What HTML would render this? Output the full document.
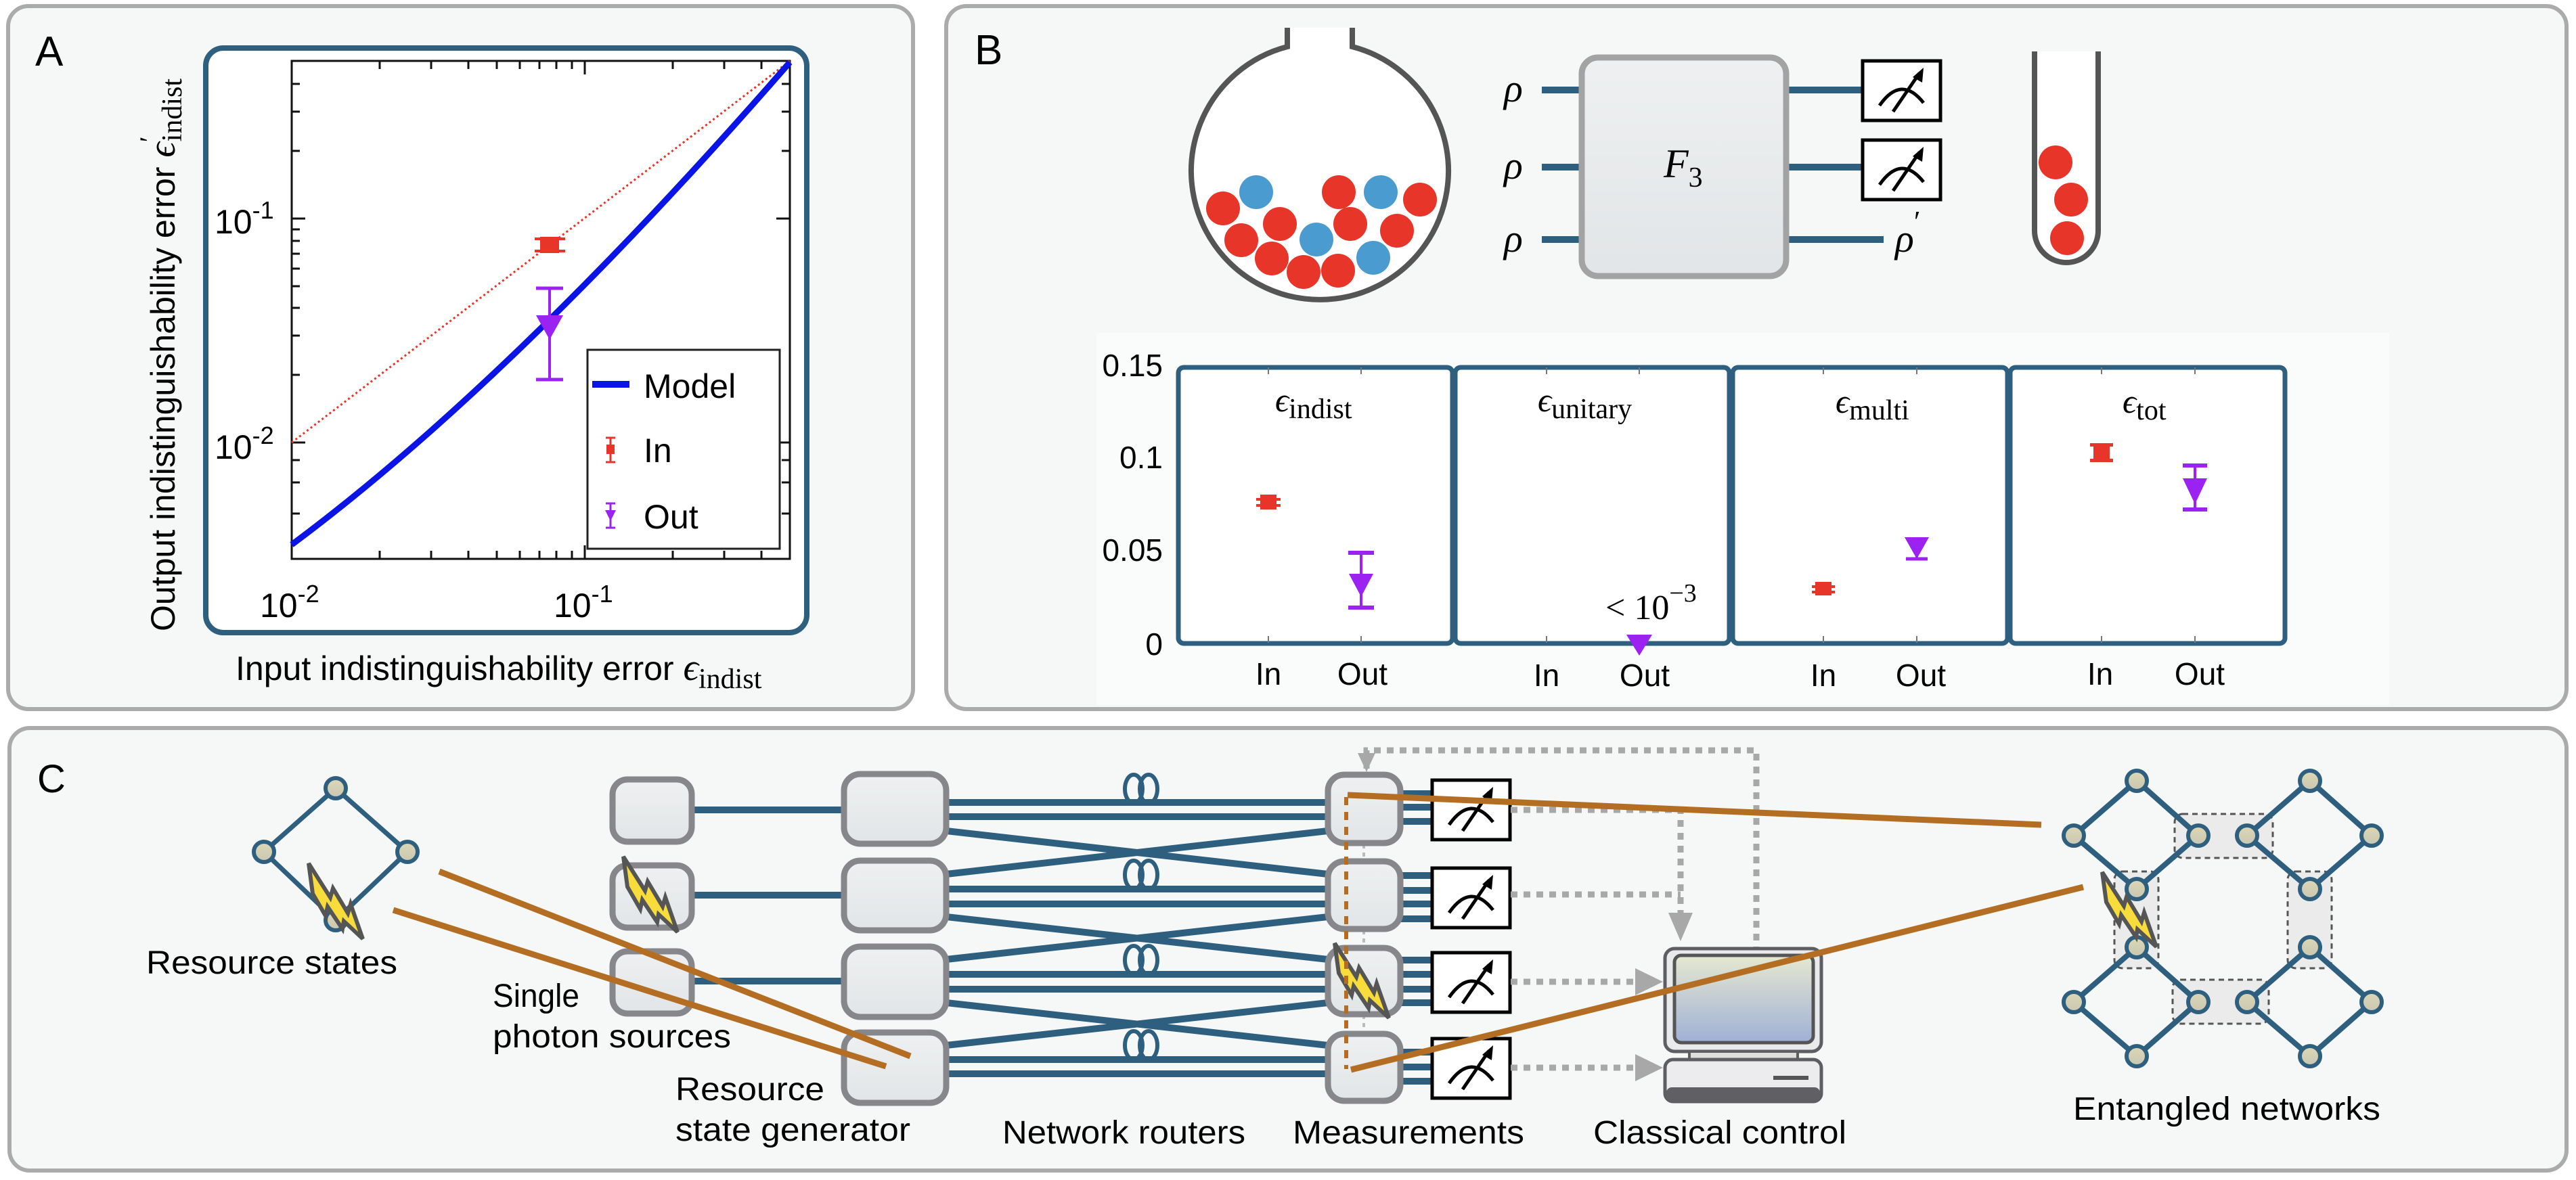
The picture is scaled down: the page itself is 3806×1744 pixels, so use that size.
<!DOCTYPE html>
<html><head><meta charset="utf-8"><style>
html,body{margin:0;padding:0;background:#fff;}
svg{display:block;}
text{font-family:"Liberation Sans",Arial,sans-serif;}
.serif{font-family:"Liberation Serif","DejaVu Serif",serif;}
</style></head><body>
<svg width="3806" height="1744" viewBox="0 0 3806 1744" xmlns="http://www.w3.org/2000/svg">
<defs>
<linearGradient id="bx" x1="0" y1="0" x2="0" y2="1"><stop offset="0" stop-color="#eef0f1"/><stop offset="1" stop-color="#e2e5e7"/></linearGradient>
<linearGradient id="nd" x1="0" y1="0" x2="0" y2="1"><stop offset="0" stop-color="#ddd8b4"/><stop offset="1" stop-color="#c9c6b4"/></linearGradient>
<linearGradient id="scr" x1="0" y1="0" x2="0" y2="1"><stop offset="0" stop-color="#e6e8d0"/><stop offset="1" stop-color="#9fb0d6"/></linearGradient>
<g id="bolt"><polygon points="0,0 32,52 36,38 58,76 62,62 80,115 52,88 50,100 28,66 25,80 6,46" fill="#f7dc3c" stroke="#555" stroke-width="6" stroke-linejoin="miter"/></g>
<g id="meter"><rect x="0" y="0" width="115" height="88" fill="#fff" stroke="#000" stroke-width="5"/><path d="M25,66 Q57,20 90,62" fill="none" stroke="#000" stroke-width="5"/><line x1="45" y1="75" x2="84" y2="18" stroke="#000" stroke-width="5"/><polygon points="90,10 88,32 74,24" fill="#000"/></g>
<g id="node"><circle r="15" fill="url(#nd)" stroke="#2e5f7f" stroke-width="6"/></g>
</defs>

<rect x="12" y="9" width="1337" height="1039" rx="30" fill="#f6f8f8" stroke="#ababab" stroke-width="6"/>
<rect x="1398" y="9" width="2394" height="1039" rx="30" fill="#f6f8f8" stroke="#ababab" stroke-width="6"/>
<rect x="14" y="1076" width="3778" height="654" rx="30" fill="#f6f8f8" stroke="#ababab" stroke-width="6"/>

<!-- ===== Panel A ===== -->
<text x="52" y="97" font-size="62">A</text>
<rect x="304" y="71" width="888" height="864" rx="26" fill="#fff" stroke="#2e5f7f" stroke-width="8"/>
<rect x="431" y="90" width="736" height="736" fill="none" stroke="#111" stroke-width="3"/>
<g stroke="#111" stroke-width="3">
<line x1="561" y1="826" x2="561" y2="814"/><line x1="637" y1="826" x2="637" y2="814"/><line x1="692" y1="826" x2="692" y2="814"/><line x1="734" y1="826" x2="734" y2="814"/><line x1="768" y1="826" x2="768" y2="814"/><line x1="797" y1="826" x2="797" y2="814"/><line x1="822" y1="826" x2="822" y2="814"/><line x1="845" y1="826" x2="845" y2="814"/><line x1="864" y1="826" x2="864" y2="806"/><line x1="994" y1="826" x2="994" y2="814"/><line x1="1070" y1="826" x2="1070" y2="814"/><line x1="1125" y1="826" x2="1125" y2="814"/>
<line x1="561" y1="90" x2="561" y2="102"/><line x1="637" y1="90" x2="637" y2="102"/><line x1="692" y1="90" x2="692" y2="102"/><line x1="734" y1="90" x2="734" y2="102"/><line x1="768" y1="90" x2="768" y2="102"/><line x1="797" y1="90" x2="797" y2="102"/><line x1="822" y1="90" x2="822" y2="102"/><line x1="845" y1="90" x2="845" y2="102"/><line x1="864" y1="90" x2="864" y2="110"/><line x1="994" y1="90" x2="994" y2="102"/><line x1="1070" y1="90" x2="1070" y2="102"/><line x1="1125" y1="90" x2="1125" y2="102"/>
<line x1="431" y1="759" x2="443" y2="759"/><line x1="431" y1="713" x2="443" y2="713"/><line x1="431" y1="680" x2="443" y2="680"/><line x1="431" y1="654" x2="451" y2="654"/><line x1="431" y1="554" x2="443" y2="554"/><line x1="431" y1="496" x2="443" y2="496"/><line x1="431" y1="455" x2="443" y2="455"/><line x1="431" y1="423" x2="443" y2="423"/><line x1="431" y1="397" x2="443" y2="397"/><line x1="431" y1="375" x2="443" y2="375"/><line x1="431" y1="356" x2="443" y2="356"/><line x1="431" y1="339" x2="443" y2="339"/><line x1="431" y1="323" x2="451" y2="323"/><line x1="431" y1="223" x2="443" y2="223"/><line x1="431" y1="165" x2="443" y2="165"/><line x1="431" y1="124" x2="443" y2="124"/>
<line x1="1167" y1="759" x2="1155" y2="759"/><line x1="1167" y1="713" x2="1155" y2="713"/><line x1="1167" y1="680" x2="1155" y2="680"/><line x1="1167" y1="654" x2="1147" y2="654"/><line x1="1167" y1="323" x2="1147" y2="323"/><line x1="1167" y1="223" x2="1155" y2="223"/><line x1="1167" y1="165" x2="1155" y2="165"/><line x1="1167" y1="124" x2="1155" y2="124"/>
</g>
<line x1="431" y1="654" x2="1167" y2="90" stroke="#e8352a" stroke-width="3" stroke-dasharray="3,4"/>
<path d="M431,805 Q760,560 1167,92" fill="none" stroke="#0a14e6" stroke-width="9"/>
<line x1="790" y1="353" x2="835" y2="353" stroke="#e8352a" stroke-width="4"/><line x1="790" y1="371" x2="835" y2="371" stroke="#e8352a" stroke-width="4"/>
<rect x="798" y="350" width="28" height="24" fill="#e8352a"/>
<line x1="812" y1="426" x2="812" y2="561" stroke="#9b22f0" stroke-width="4"/>
<line x1="792" y1="426" x2="832" y2="426" stroke="#9b22f0" stroke-width="5"/><line x1="792" y1="561" x2="832" y2="561" stroke="#9b22f0" stroke-width="5"/>
<polygon points="792,466 832,466 812,502" fill="#9b22f0"/>
<rect x="868" y="517" width="284" height="294" fill="#fff" stroke="#222" stroke-width="3"/>
<line x1="875" y1="568" x2="930" y2="568" stroke="#0a14e6" stroke-width="10"/>
<text x="951" y="588" font-size="50">Model</text>
<line x1="902" y1="647" x2="902" y2="683" stroke="#e8352a" stroke-width="3"/><line x1="895" y1="647" x2="909" y2="647" stroke="#e8352a" stroke-width="3"/><line x1="895" y1="683" x2="909" y2="683" stroke="#e8352a" stroke-width="3"/><rect x="896" y="657" width="12" height="14" fill="#e8352a"/>
<text x="951" y="683" font-size="50">In</text>
<line x1="902" y1="744" x2="902" y2="780" stroke="#9b22f0" stroke-width="3"/><line x1="895" y1="744" x2="909" y2="744" stroke="#9b22f0" stroke-width="3"/><line x1="895" y1="780" x2="909" y2="780" stroke="#9b22f0" stroke-width="3"/><polygon points="894,754 910,754 902,770" fill="#9b22f0"/>
<text x="951" y="781" font-size="50">Out</text>
<text x="317" y="345" font-size="50">10<tspan dy="-22" font-size="36">-1</tspan></text>
<text x="317" y="678" font-size="50">10<tspan dy="-22" font-size="36">-2</tspan></text>
<text x="384" y="912" font-size="50">10<tspan dy="-22" font-size="36">-2</tspan></text>
<text x="818" y="912" font-size="50">10<tspan dy="-22" font-size="36">-1</tspan></text>
<text transform="translate(258,933) rotate(-90)" font-size="50">Output indistinguishability error <tspan class="serif" font-style="italic" font-size="56">ϵ</tspan><tspan class="serif" font-size="40" dy="-24">′</tspan><tspan class="serif" font-size="42" dy="34" dx="-8">indist</tspan></text>
<text x="348" y="1005" font-size="50">Input indistinguishability error <tspan class="serif" font-style="italic" font-size="56">ϵ</tspan><tspan class="serif" font-size="42" dy="12">indist</tspan></text>

<!-- ===== Panel B ===== -->
<text x="1440" y="95" font-size="62">B</text>
<path d="M1902,41 L1902,69 A190,190 0 1 0 1998,69 L1998,41" fill="#fff" stroke="#555" stroke-width="8"/>
<g fill="#e8352a">
<circle cx="1807" cy="308" r="25"/><circle cx="1891" cy="331" r="25"/><circle cx="1834" cy="355" r="25"/><circle cx="1879" cy="382" r="25"/><circle cx="1926" cy="402" r="25"/><circle cx="1978" cy="284" r="25"/><circle cx="2098" cy="295" r="25"/><circle cx="1995" cy="331" r="25"/><circle cx="2064" cy="341" r="25"/><circle cx="1977" cy="400" r="25"/>
</g>
<g fill="#4a9bd0"><circle cx="1856" cy="284" r="25"/><circle cx="1945" cy="354" r="25"/><circle cx="2040" cy="284" r="25"/><circle cx="2029" cy="381" r="25"/></g>
<g stroke="#2e5f7f" stroke-width="10">
<line x1="2278" y1="133" x2="2335" y2="133"/><line x1="2278" y1="247" x2="2335" y2="247"/><line x1="2278" y1="354" x2="2335" y2="354"/>
<line x1="2641" y1="133" x2="2752" y2="133"/><line x1="2641" y1="247" x2="2752" y2="247"/><line x1="2641" y1="354" x2="2783" y2="354"/>
</g>
<text class="serif" font-style="italic" font-size="58" x="2222" y="150">ρ</text>
<text class="serif" font-style="italic" font-size="58" x="2222" y="264">ρ</text>
<text class="serif" font-style="italic" font-size="58" x="2222" y="372">ρ</text>
<rect x="2337" y="85" width="302" height="323" rx="24" fill="url(#bx)" stroke="#a3a3a3" stroke-width="9"/>
<text class="serif" font-style="italic" font-size="60" x="2458" y="262">F<tspan font-style="normal" font-size="42" dy="14">3</tspan></text>
<use href="#meter" x="2752" y="90"/>
<use href="#meter" x="2752" y="207"/>
<text class="serif" font-style="italic" font-size="58" x="2800" y="372">ρ<tspan font-style="normal" font-size="44" dy="-30">′</tspan></text>
<path d="M3006,76 L3006,341 A47,47 0 0 0 3100,341 L3100,76" fill="#fff" stroke="#555" stroke-width="8"/>
<g fill="#e8352a"><circle cx="3037" cy="240" r="25"/><circle cx="3060" cy="295" r="25"/><circle cx="3054" cy="352" r="25"/></g>

<rect x="1620" y="492" width="1910" height="550" fill="#fafbfb"/>
<g fill="#fff" stroke="#2e5f7f" stroke-width="7">
<rect x="1741" y="543" width="405" height="408" rx="8"/>
<rect x="2150" y="543" width="405" height="408" rx="8"/>
<rect x="2560" y="543" width="406" height="408" rx="8"/>
<rect x="2970" y="543" width="406" height="408" rx="8"/>
</g>
<g stroke="#777" stroke-width="2">
<line x1="1874" y1="950" x2="1874" y2="940"/><line x1="2011" y1="950" x2="2011" y2="940"/><line x1="1874" y1="543" x2="1874" y2="553"/><line x1="2011" y1="543" x2="2011" y2="553"/>
<line x1="2285" y1="950" x2="2285" y2="940"/><line x1="2422" y1="950" x2="2422" y2="940"/><line x1="2285" y1="543" x2="2285" y2="553"/><line x1="2422" y1="543" x2="2422" y2="553"/>
<line x1="2694" y1="950" x2="2694" y2="940"/><line x1="2832" y1="950" x2="2832" y2="940"/><line x1="2694" y1="543" x2="2694" y2="553"/><line x1="2832" y1="543" x2="2832" y2="553"/>
<line x1="3105" y1="950" x2="3105" y2="940"/><line x1="3243" y1="950" x2="3243" y2="940"/><line x1="3105" y1="543" x2="3105" y2="553"/><line x1="3243" y1="543" x2="3243" y2="553"/>
</g>
<g font-size="46" text-anchor="end">
<text x="1718" y="556">0.15</text><text x="1718" y="692">0.1</text><text x="1718" y="829">0.05</text><text x="1718" y="968">0</text>
</g>
<g font-size="46" text-anchor="middle">
<text x="1874" y="1012">In</text><text x="2013" y="1012">Out</text>
<text x="2285" y="1014">In</text><text x="2430" y="1014">Out</text>
<text x="2694" y="1014">In</text><text x="2838" y="1014">Out</text>
<text x="3103" y="1012">In</text><text x="3250" y="1012">Out</text>
</g>
<g class="serif" font-size="50">
<text x="1884" y="608" class="serif"><tspan font-style="italic">ϵ</tspan><tspan font-size="42" dy="10">indist</tspan></text>
<text x="2272" y="608" class="serif"><tspan font-style="italic">ϵ</tspan><tspan font-size="42" dy="10">unitary</tspan></text>
<text x="2712" y="610" class="serif"><tspan font-style="italic">ϵ</tspan><tspan font-size="42" dy="10">multi</tspan></text>
<text x="3136" y="610" class="serif"><tspan font-style="italic">ϵ</tspan><tspan font-size="42" dy="10">tot</tspan></text>
<text x="2372" y="915" class="serif" font-size="52">&lt; 10<tspan font-size="38" dy="-26">−3</tspan></text>
</g>
<g fill="#e8352a">
<rect x="1862" y="731" width="24" height="22"/><rect x="1856" y="736" width="36" height="4"/><rect x="1856" y="745" width="36" height="4"/>
<rect x="2682" y="860" width="24" height="20"/><rect x="2677" y="865" width="34" height="4"/><rect x="2677" y="873" width="34" height="4"/>
<rect x="3093" y="657" width="24" height="25"/><rect x="3088" y="655" width="34" height="5"/><rect x="3088" y="678" width="34" height="5"/>
</g>
<g stroke="#9b22f0" stroke-width="4">
<line x1="2011" y1="817" x2="2011" y2="899"/><line x1="1992" y1="817" x2="2030" y2="817" stroke-width="6"/><line x1="1992" y1="898" x2="2030" y2="898" stroke-width="6"/>
<line x1="2832" y1="795" x2="2832" y2="826"/><line x1="2816" y1="826" x2="2848" y2="826" stroke-width="5"/>
<line x1="3243" y1="688" x2="3243" y2="754"/><line x1="3225" y1="688" x2="3261" y2="688" stroke-width="6"/><line x1="3225" y1="753" x2="3261" y2="753" stroke-width="6"/>
</g>
<g fill="#9b22f0">
<polygon points="1993,848 2029,848 2011,882"/>
<polygon points="2814,794 2850,794 2832,826"/>
<polygon points="3225,707 3261,707 3243,745"/>
<polygon points="2403,938 2441,938 2422,969"/>
</g>

<!-- ===== Panel C ===== -->
<text x="55" y="1171" font-size="58">C</text>
<g stroke="#2e5f7f" stroke-width="7" fill="none"><polygon points="496,1165 602,1259 496,1360 390,1259"/></g>
<use href="#node" x="496" y="1165"/><use href="#node" x="390" y="1259"/><use href="#node" x="602" y="1259"/><use href="#node" x="496" y="1360"/>
<use href="#bolt" transform="translate(456,1276) scale(1.0,0.97)"/>
<text x="216" y="1439" font-size="48" textLength="371" lengthAdjust="spacingAndGlyphs">Resource states</text>

<g stroke="#2e5f7f" stroke-width="10">
<line x1="1020" y1="1197" x2="1250" y2="1197"/><line x1="1020" y1="1323" x2="1250" y2="1323"/><line x1="1020" y1="1450" x2="1250" y2="1450"/>
<line x1="1398" y1="1186" x2="1962" y2="1186"/><line x1="1398" y1="1207" x2="1962" y2="1207"/>
<line x1="1398" y1="1314" x2="1962" y2="1314"/><line x1="1398" y1="1336" x2="1962" y2="1336"/>
<line x1="1398" y1="1440" x2="1962" y2="1440"/><line x1="1398" y1="1462" x2="1962" y2="1462"/>
<line x1="1398" y1="1566" x2="1962" y2="1566"/><line x1="1398" y1="1587" x2="1962" y2="1587"/>
<line x1="1398" y1="1228" x2="1962" y2="1292"/><line x1="1398" y1="1292" x2="1962" y2="1228"/>
<line x1="1398" y1="1355" x2="1962" y2="1418"/><line x1="1398" y1="1418" x2="1962" y2="1355"/>
<line x1="1398" y1="1482" x2="1962" y2="1545"/><line x1="1398" y1="1545" x2="1962" y2="1482"/>
<line x1="2068" y1="1173" x2="2118" y2="1173"/><line x1="2068" y1="1193" x2="2118" y2="1193"/><line x1="2068" y1="1214" x2="2118" y2="1214"/>
<line x1="2068" y1="1294" x2="2118" y2="1294"/><line x1="2068" y1="1316" x2="2118" y2="1316"/><line x1="2068" y1="1336" x2="2118" y2="1336"/><line x1="2068" y1="1358" x2="2118" y2="1358"/>
<line x1="2068" y1="1419" x2="2118" y2="1419"/><line x1="2068" y1="1440" x2="2118" y2="1440"/><line x1="2068" y1="1462" x2="2118" y2="1462"/><line x1="2068" y1="1482" x2="2118" y2="1482"/>
<line x1="2068" y1="1555" x2="2118" y2="1555"/><line x1="2068" y1="1577" x2="2118" y2="1577"/><line x1="2068" y1="1598" x2="2118" y2="1598"/>
</g>
<g stroke="#2e5f7f" stroke-width="6" fill="none">
<ellipse cx="1675" cy="1166" rx="13" ry="21"/><ellipse cx="1697" cy="1166" rx="13" ry="21"/>
<ellipse cx="1675" cy="1293" rx="13" ry="21"/><ellipse cx="1697" cy="1293" rx="13" ry="21"/>
<ellipse cx="1675" cy="1419" rx="13" ry="21"/><ellipse cx="1697" cy="1419" rx="13" ry="21"/>
<ellipse cx="1675" cy="1545" rx="13" ry="21"/><ellipse cx="1697" cy="1545" rx="13" ry="21"/>
</g>
<rect x="905" y="1152" width="117" height="92" rx="22" fill="url(#bx)" stroke="#87868b" stroke-width="9"/>
<rect x="905" y="1279" width="117" height="92" rx="22" fill="url(#bx)" stroke="#87868b" stroke-width="9"/>
<rect x="905" y="1406" width="117" height="92" rx="22" fill="url(#bx)" stroke="#87868b" stroke-width="9"/>
<use href="#bolt" transform="translate(921,1266) scale(1.0,0.97)"/>
<rect x="1247" y="1144" width="151" height="103" rx="24" fill="url(#bx)" stroke="#87868b" stroke-width="9"/>
<rect x="1247" y="1272" width="151" height="103" rx="24" fill="url(#bx)" stroke="#87868b" stroke-width="9"/>
<rect x="1247" y="1399" width="151" height="104" rx="24" fill="url(#bx)" stroke="#87868b" stroke-width="9"/>
<rect x="1247" y="1526" width="151" height="104" rx="24" fill="url(#bx)" stroke="#87868b" stroke-width="9"/>
<g stroke="#bbb" stroke-width="4" stroke-dasharray="6,6"><line x1="2015" y1="1248" x2="2015" y2="1272"/><line x1="2015" y1="1375" x2="2015" y2="1400"/><line x1="2015" y1="1500" x2="2015" y2="1527"/></g>
<rect x="1962" y="1145" width="107" height="101" rx="24" fill="url(#bx)" stroke="#87868b" stroke-width="9"/>
<rect x="1962" y="1273" width="107" height="100" rx="24" fill="url(#bx)" stroke="#87868b" stroke-width="9"/>
<rect x="1962" y="1401" width="107" height="98" rx="24" fill="url(#bx)" stroke="#87868b" stroke-width="9"/>
<rect x="1962" y="1528" width="107" height="99" rx="24" fill="url(#bx)" stroke="#87868b" stroke-width="9"/>
<use href="#meter" x="2116" y="1153"/>
<use href="#meter" x="2116" y="1283"/>
<use href="#meter" x="2116" y="1408"/>
<use href="#meter" x="2116" y="1535"/>
<g stroke="#a8a8a8" stroke-width="9" stroke-dasharray="10,9" fill="none">
<polyline points="2019,1136 2019,1109 2595,1109 2595,1400"/>
<polyline points="2232,1197 2483,1197 2483,1370"/>
<line x1="2232" y1="1322" x2="2483" y2="1322"/>
<line x1="2232" y1="1451" x2="2432" y2="1451"/>
<line x1="2232" y1="1578" x2="2432" y2="1578"/>
</g>
<g fill="#a8a8a8">
<polygon points="2006,1113 2032,1113 2019,1141"/>
<polygon points="2465,1349 2501,1349 2483,1391"/>
<polygon points="2416,1431 2457,1451 2416,1471"/>
<polygon points="2416,1558 2457,1578 2416,1598"/>
</g>
<rect x="2460" y="1402" width="231" height="152" rx="14" fill="#e9eaec" stroke="#5e5e62" stroke-width="5"/>
<rect x="2474" y="1412" width="205" height="129" rx="10" fill="url(#scr)" stroke="#555" stroke-width="5"/>
<rect x="2496" y="1554" width="160" height="12" fill="#ddd" stroke="#5e5e62" stroke-width="4"/>
<rect x="2460" y="1566" width="231" height="62" rx="12" fill="#ececee" stroke="#5e5e62" stroke-width="5"/>
<rect x="2462" y="1607" width="227" height="21" rx="8" fill="#606064"/>
<rect x="2620" y="1590" width="52" height="6" fill="#555"/>
<use href="#bolt" transform="translate(1972,1394) scale(1.0,0.96)"/>
<g stroke="#b46e23" stroke-width="9" fill="none">
<line x1="649" y1="1288" x2="1345" y2="1561"/>
<line x1="581" y1="1345" x2="1309" y2="1576"/>
<line x1="1991" y1="1175" x2="3016" y2="1219"/>
<line x1="1996" y1="1581" x2="3078" y2="1311"/>
<line x1="1989" y1="1178" x2="1989" y2="1580" stroke-width="6" stroke-dasharray="12,10"/>
</g>
<g fill="#ebebeb" stroke="#555" stroke-width="3" stroke-dasharray="8,6">
<rect x="3213" y="1203" width="145" height="65" rx="12"/>
<rect x="3124" y="1288" width="65" height="143" rx="12"/>
<rect x="3380" y="1288" width="65" height="143" rx="12"/>
<rect x="3210" y="1448" width="142" height="65" rx="12"/>
</g>
<g stroke="#2e5f7f" stroke-width="8" fill="none">
<polygon points="3157,1154 3248,1235 3157,1314 3064,1235"/>
<polygon points="3413,1154 3504,1235 3413,1314 3320,1235"/>
<polygon points="3157,1400 3248,1481 3157,1561 3064,1481"/>
<polygon points="3413,1400 3504,1481 3413,1561 3320,1481"/>
</g>
<g>
<use href="#node" x="3157" y="1154"/><use href="#node" x="3248" y="1235"/><use href="#node" x="3157" y="1314"/><use href="#node" x="3064" y="1235"/>
<use href="#node" x="3413" y="1154"/><use href="#node" x="3504" y="1235"/><use href="#node" x="3413" y="1314"/><use href="#node" x="3320" y="1235"/>
<use href="#node" x="3157" y="1400"/><use href="#node" x="3248" y="1481"/><use href="#node" x="3157" y="1561"/><use href="#node" x="3064" y="1481"/>
<use href="#node" x="3413" y="1400"/><use href="#node" x="3504" y="1481"/><use href="#node" x="3413" y="1561"/><use href="#node" x="3320" y="1481"/>
</g>
<use href="#bolt" transform="translate(3106,1289) scale(1.0,0.96)"/>
<g font-size="48">
<text x="728" y="1488" textLength="128" lengthAdjust="spacingAndGlyphs">Single</text>
<text x="728" y="1548" textLength="352" lengthAdjust="spacingAndGlyphs">photon sources</text>
<text x="998" y="1626" textLength="220" lengthAdjust="spacingAndGlyphs">Resource</text>
<text x="998" y="1686" textLength="347" lengthAdjust="spacingAndGlyphs">state generator</text>
<text x="1481" y="1690" textLength="359" lengthAdjust="spacingAndGlyphs">Network routers</text>
<text x="1910" y="1690" textLength="342" lengthAdjust="spacingAndGlyphs">Measurements</text>
<text x="2354" y="1690" textLength="374" lengthAdjust="spacingAndGlyphs">Classical control</text>
<text x="3063" y="1655" textLength="454" lengthAdjust="spacingAndGlyphs">Entangled networks</text>
</g>
</svg>
</body></html>
